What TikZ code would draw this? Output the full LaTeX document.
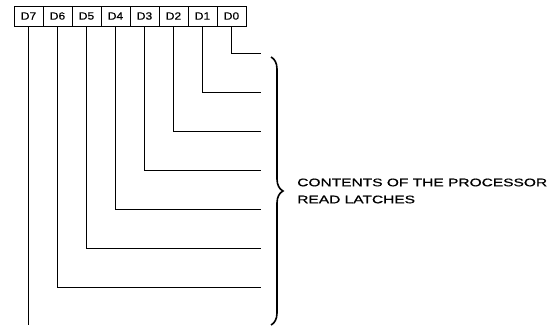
\documentclass[tikz,border=0pt]{standalone}
\usepackage{fontspec}
\setmainfont{Liberation Sans}
\usetikzlibrary{decorations.pathreplacing}
\tikzset{
  bitbox/.style={draw,line width=0.7pt,minimum width=29pt,minimum height=20pt,inner sep=0pt,font=\fontsize{10.5}{12}\selectfont\addfontfeatures{FakeBold=0.6}},
  wire/.style={line width=0.6pt},
}
\begin{document}
\begin{tikzpicture}[x=1pt,y=-1pt]
        \useasboundingbox (0,0) rectangle (555,326);
        \foreach \i in {0,...,7} \node[bitbox](d\i)at({231.5-29*\i},16){\scalebox{1.15}[1]{D\i}};
        \foreach \i in {0,...,6} \coordinate (e\i) at (261,{53+39*\i});
        \coordinate (e7) at (d7.south |- 0,325);
        \foreach \i in {0,...,6} \draw[wire](d\i.south)|-(e\i);
        \draw[wire](d7.south)--(e7);
        \coordinate (bt) at (271,57);
        \coordinate (bb) at (271,325);
        \draw[decorate,decoration={brace,amplitude=12pt},line width=1.6pt](bt)--(bb);
        \node[anchor=west,align=left,inner sep=0pt,font=\fontsize{11}{17}\selectfont\addfontfeatures{FakeBold=0.6},xscale=1.41](txt)at(297,191){CONTENTS OF THE PROCESSOR\\READ LATCHES};
    \end{tikzpicture}
\end{document}
